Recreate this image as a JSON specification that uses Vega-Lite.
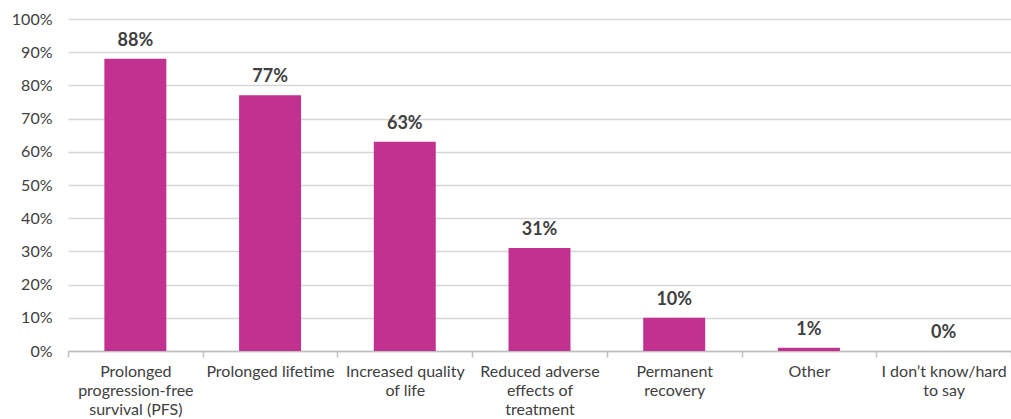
{
  "$schema": "https://vega.github.io/schema/vega-lite/v6.json",
  "width": 943,
  "height": 332,
  "autosize": "none",
  "padding": {"left": 68, "top": 19, "right": 0, "bottom": 68},
  "config": {
    "font": "Lato",
    "view": {"stroke": null}
  },
  "data": {
    "values": [
      {"category": "Prolonged|progression-free|survival (PFS)", "value": 0.88},
      {"category": "Prolonged lifetime", "value": 0.77},
      {"category": "Increased quality|of life", "value": 0.63},
      {"category": "Reduced adverse|effects of|treatment", "value": 0.31},
      {"category": "Permanent|recovery", "value": 0.10},
      {"category": "Other", "value": 0.01},
      {"category": "I don’t know/hard|to say", "value": 0.0}
    ]
  },
  "encoding": {
    "x": {
      "field": "category",
      "type": "nominal",
      "sort": null,
      "scale": {"paddingInner": 0, "paddingOuter": 0},
      "axis": {
        "title": null,
        "labelAngle": 0,
        "labelExpr": "isValid(datum.value) ? split(datum.value, '|') : ''",
        "labelFont": "Lato",
        "labelFontSize": 16,
        "labelColor": "#404040",
        "labelLineHeight": 19,
        "labelPadding": 6,
        "labelLimit": 200,
        "domainColor": "#bfbfbf",
        "domainWidth": 1.5,
        "tickColor": "#bfbfbf",
        "tickWidth": 1.5,
        "tickSize": 6,
        "tickBand": "extent"
      }
    },
    "y": {
      "field": "value",
      "type": "quantitative",
      "scale": {"domain": [0, 1]},
      "axis": {
        "title": null,
        "format": ".0%",
        "values": [0, 0.1, 0.2, 0.3, 0.4, 0.5, 0.6, 0.7, 0.8, 0.9, 1],
        "domain": false,
        "ticks": false,
        "labelFont": "Lato",
        "labelFontSize": 16,
        "labelColor": "#404040",
        "labelPadding": 16,
        "gridColor": "#d6d6d6",
        "gridWidth": 1.5
      }
    }
  },
  "layer": [
    {"mark": {"type": "bar", "color": "#C1318F", "width": {"band": 0.46}}},
    {
      "mark": {"type": "text", "baseline": "bottom", "dy": -9, "font": "Lato", "fontSize": 18, "fontWeight": "bold", "color": "#404040"},
      "encoding": {
        "text": {"field": "value", "type": "quantitative", "format": ".0%"}
      }
    }
  ]
}
